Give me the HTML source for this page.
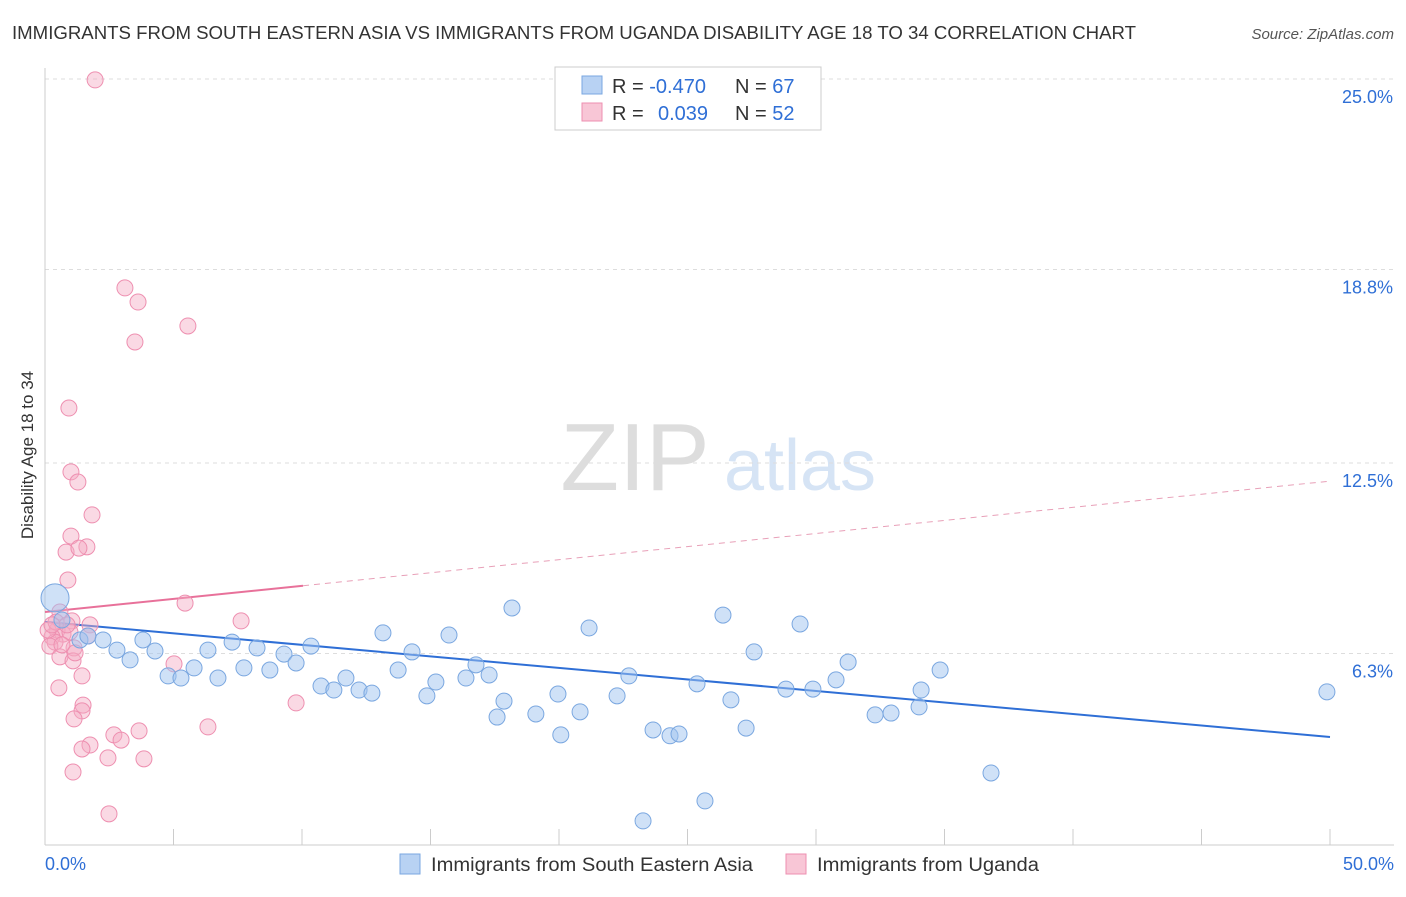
<!DOCTYPE html>
<html><head><meta charset="utf-8"><style>
body{margin:0;background:#fff;font-family:"Liberation Sans",sans-serif;}
svg text{font-family:"Liberation Sans",sans-serif;}
</style></head><body>
<svg id="chart" width="1406" height="892">
<text x="12" y="39" font-size="18" fill="#333" textLength="1124" lengthAdjust="spacingAndGlyphs">IMMIGRANTS FROM SOUTH EASTERN ASIA VS IMMIGRANTS FROM UGANDA DISABILITY AGE 18 TO 34 CORRELATION CHART</text>
<text x="1394" y="39" font-size="15" fill="#555" font-style="italic" text-anchor="end">Source: ZipAtlas.com</text>
<text x="33" y="455" font-size="17" fill="#333" text-anchor="middle" transform="rotate(-90 33 455)">Disability Age 18 to 34</text>
<g><text x="635" y="490" font-size="96" fill="#ddd" font-family="Liberation Serif" text-anchor="middle">ZIP</text><text x="800" y="490" font-size="72" fill="#d6e4f5" text-anchor="middle">atlas</text></g>
<g id="grid"></g><g id="axes"></g><g id="trend"></g><g id="pts"></g>
<g>
<rect x="555" y="67" width="266" height="63" fill="#fff" stroke="#ccc"/>
<rect x="582" y="76" width="20" height="18" fill="#b8d2f3" stroke="#7aa7e0"/>
<rect x="582" y="103" width="20" height="18" fill="#f8c6d6" stroke="#ee8fb0"/>
<text x="612" y="93" font-size="20" fill="#333">R = <tspan fill="#2f6fd6">-0.470</tspan></text>
<text x="735" y="93" font-size="20" fill="#333">N = <tspan fill="#2f6fd6">67</tspan></text>
<text x="612" y="120" font-size="20" fill="#333">R = </text><text x="658" y="120" font-size="20" fill="#2f6fd6">0.039</text>
<text x="735" y="120" font-size="20" fill="#333">N = <tspan fill="#2f6fd6">52</tspan></text>
</g>
<g>
<rect x="400" y="854" width="20" height="20" fill="#b8d2f3" stroke="#7aa7e0"/>
<text x="431" y="871" font-size="19" fill="#333" textLength="322" lengthAdjust="spacingAndGlyphs">Immigrants from South Eastern Asia</text>
<rect x="786" y="854" width="20" height="20" fill="#f8c6d6" stroke="#ee8fb0"/>
<text x="817" y="871" font-size="19" fill="#333" textLength="222" lengthAdjust="spacingAndGlyphs">Immigrants from Uganda</text>
</g>
</svg>
<script>
const yTicks=[25.0,18.8,12.5,6.3];
const yTickLabels=["25.0%","18.8%","12.5%","6.3%"];
const xTickLabels=["0.0%","50.0%"];
const blueX=[0.39,0.66,1.36,1.67,2.26,2.80,3.31,3.81,4.28,4.79,5.29,5.80,6.34,6.73,7.28,7.74,8.25,8.75,9.30,9.77,10.35,10.74,11.24,11.71,12.22,12.72,13.15,13.74,14.28,14.86,15.21,15.72,16.38,16.77,17.28,17.59,17.86,18.17,19.10,19.96,20.07,20.82,21.17,22.26,22.72,23.66,24.32,24.67,25.37,25.68,26.38,26.69,27.28,27.59,28.83,29.38,29.88,30.78,31.25,32.30,32.92,34.01,34.09,34.83,36.81,49.88,23.27];
const blueY=[8.11,7.39,6.74,6.87,6.74,6.41,6.09,6.74,6.38,5.57,5.50,5.83,6.41,5.50,6.67,5.83,6.48,5.76,6.28,5.99,6.54,5.24,5.11,5.50,5.11,5.01,6.97,5.76,6.35,4.92,5.37,6.90,5.50,5.93,5.60,4.23,4.75,7.78,4.33,4.98,3.65,4.40,7.13,4.92,5.57,3.81,3.62,3.68,5.31,1.50,7.55,4.79,3.87,6.35,5.14,7.26,5.14,5.44,6.02,4.30,4.36,4.56,5.11,5.76,2.41,5.05,0.85];
const pinkX=[1.95,3.11,3.62,5.56,3.50,0.93,1.01,1.28,1.83,1.01,1.63,0.82,1.32,0.89,5.45,7.63,0.58,1.05,1.75,0.47,0.70,0.27,0.97,0.39,0.19,1.13,0.58,1.09,5.02,1.44,0.54,9.77,1.48,1.44,1.13,6.34,3.66,2.68,2.96,1.75,1.44,2.45,3.85,1.09,2.49,0.12,0.43,0.66,1.17,1.67,0.86,0.27];
const pinkY=[24.97,18.20,17.74,16.96,16.44,14.29,12.21,11.88,10.81,10.12,9.77,9.60,9.73,8.69,7.94,7.36,7.65,7.36,7.23,7.06,6.93,6.84,7.00,6.67,6.54,6.48,6.19,6.06,5.96,5.57,5.18,4.69,4.62,4.43,4.17,3.91,3.78,3.65,3.48,3.32,3.19,2.90,2.87,2.44,1.08,7.06,7.32,6.58,6.32,6.87,7.23,7.23];
const blueTrend=[7.33,3.58];
const pinkTrend=[7.65,11.91];
const pinkSolidEnd=10.04;
const NS="http://www.w3.org/2000/svg";
const xs=v=>45+v/50*1285, ys=v=>79+(25-v)*30.72;
function mk(t,a,p){const e=document.createElementNS(NS,t);for(const k in a)e.setAttribute(k,a[k]);p.appendChild(e);return e;}
const grid=document.getElementById('grid'),axes=document.getElementById('axes');
yTicks.forEach((t,i)=>{
 const l=mk('line',{x1:45,x2:1394,y1:ys(t),y2:ys(t),stroke:'#ddd','stroke-dasharray':'4,4'},grid);
 
 
 const tx=mk('text',{x:1393,y:ys(t)+24,'font-size':18,fill:'#2f6fd6','text-anchor':'end'},axes);tx.textContent=yTickLabels[i];
 
 
});
const ax=mk('line',{x1:45,x2:1394,y1:845,y2:845,stroke:'#ccc'},axes);


const ay=mk('line',{x1:45,x2:45,y1:68,y2:845,stroke:'#ccc'},axes);


for(let i=0;i<=10;i++){const t=mk('line',{x1:xs(i*5),x2:xs(i*5),y1:829,y2:845,stroke:'#ccc'},axes);
 
 }
[[0,'start',45],[50,'end',1394]].forEach((d,i)=>{const t=mk('text',{x:d[2],y:870,'font-size':18,fill:'#2f6fd6','text-anchor':d[1]},axes);t.textContent=xTickLabels[i];
 
 });
const tr=document.getElementById('trend');
const bl=mk('line',{x1:xs(0),y1:ys(blueTrend[0]),x2:xs(50),y2:ys(blueTrend[1]),stroke:'#2f6fd6','stroke-width':2},tr);


const pv=x=>pinkTrend[0]+(pinkTrend[1]-pinkTrend[0])*x/50;
const ps=mk('line',{x1:xs(0),y1:ys(pinkTrend[0]),x2:xs(pinkSolidEnd),y2:ys(pv(pinkSolidEnd)),stroke:'#e8719a','stroke-width':2},tr);


const pd=mk('line',{x1:xs(pinkSolidEnd),y1:ys(pv(pinkSolidEnd)),x2:xs(50),y2:ys(pinkTrend[1]),stroke:'#e8a0b8','stroke-width':1,'stroke-dasharray':'6,5'},tr);


const pts=document.getElementById('pts');
pinkX.forEach((x,i)=>{const c=mk('circle',{cx:xs(x),cy:ys(pinkY[i]),r:8,fill:'rgba(245,170,195,0.45)',stroke:'#ee8fb0','stroke-width':1},pts);
 
 });
blueX.forEach((x,i)=>{const c=mk('circle',{cx:xs(x),cy:ys(blueY[i]),r:i==0?14:8,fill:'rgba(160,196,240,0.5)',stroke:'#7aa7e0','stroke-width':1},pts);
 
 });
</script>
</body></html>
